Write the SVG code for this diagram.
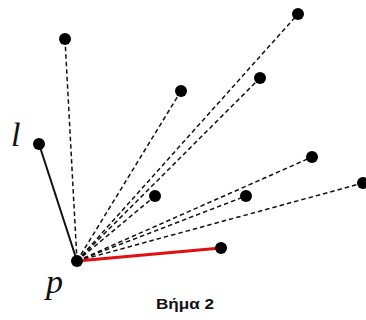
<svg xmlns="http://www.w3.org/2000/svg" width="366" height="320" viewBox="0 0 366 320">
<style>
.d{stroke:#111;stroke-width:1.5;stroke-dasharray:4.5 3;fill:none}
.pt{fill:#000}
.lbl{font-family:"Liberation Serif",serif;font-style:italic;font-size:34px;fill:#111}
.cap{font-family:"Liberation Sans",sans-serif;font-weight:bold;font-size:14px;fill:#111}
</style>
<rect width="366" height="320" fill="#fff"/>
<g id="connectors">
<line class="d" x1="77" y1="261" x2="65" y2="39"/>
<line class="d" x1="77" y1="261" x2="181" y2="91"/>
<line class="d" x1="77" y1="261" x2="298" y2="14"/>
<line class="d" x1="77" y1="261" x2="260" y2="78"/>
<line class="d" x1="77" y1="261" x2="155" y2="196"/>
<line class="d" x1="77" y1="261" x2="246" y2="196"/>
<line class="d" x1="77" y1="261" x2="312" y2="157"/>
<line class="d" x1="77" y1="261" x2="363" y2="183"/>
<line x1="77" y1="261" x2="39" y2="144" stroke="#111" stroke-width="2"/>
<line x1="77" y1="261" x2="221" y2="248" stroke="#e01010" stroke-width="3"/>
</g>
<g id="p"><circle class="pt" cx="77" cy="261" r="6"/><text class="lbl" x="46" y="293">p</text></g>
<g id="l"><circle class="pt" cx="39" cy="144" r="6"/><text class="lbl" x="11" y="146">l</text></g>
<g id="n1"><circle class="pt" cx="65" cy="39" r="6"/></g>
<g id="n2"><circle class="pt" cx="181" cy="91" r="6"/></g>
<g id="n3"><circle class="pt" cx="298" cy="14" r="6"/></g>
<g id="n4"><circle class="pt" cx="260" cy="78" r="6"/></g>
<g id="n5"><circle class="pt" cx="155" cy="196" r="6"/></g>
<g id="n6"><circle class="pt" cx="246" cy="196" r="6"/></g>
<g id="n7"><circle class="pt" cx="312" cy="157" r="6"/></g>
<g id="n8"><circle class="pt" cx="363" cy="183" r="6"/></g>
<g id="n9"><circle class="pt" cx="221" cy="248" r="6"/></g>
<g id="caption"><text class="cap" x="156" y="309" textLength="58" lengthAdjust="spacingAndGlyphs">Βήμα 2</text></g>
</svg>
